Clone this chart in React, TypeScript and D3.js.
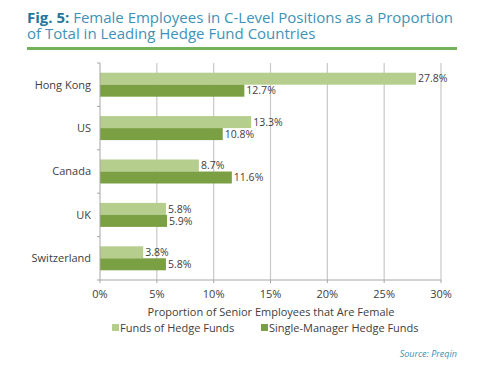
import React from "react";
import * as d3 from "d3";

const categories = ["Hong Kong", "US", "Canada", "UK", "Switzerland"];
const seriesNames = ["Funds of Hedge Funds", "Single-Manager Hedge Funds"];
const fundsOfHedgeFunds = [27.8, 13.3, 8.7, 5.8, 3.8];
const singleManager = [12.7, 10.8, 11.6, 5.9, 5.8];
const xTicks = [0, 5, 10, 15, 20, 25, 30];

const W = 499;
const H = 373;
const FONT = "'Open Sans', 'DejaVu Sans', sans-serif";
const LIGHT = "#b5cd8d";
const DARK = "#7ba043";
const TEXT = "#404040";

export default function App() {
  const x = d3.scaleLinear().domain([0, 30]).range([100, 441]);
  const y = d3.scaleBand().domain(categories).range([63, 280]).paddingInner(0).paddingOuter(0);
  const barH = 12;
  const series = [fundsOfHedgeFunds, singleManager];
  const colors = [LIGHT, DARK];

  return (
    <div style={{ position: "fixed", left: 0, top: 0 }}>
      <svg width={W} height={H} style={{ display: "block", background: "#fff" }}>
        <text x={27} y={23} fontFamily={FONT} fontSize={15} fill="#4092b8" textLength={426} lengthAdjust="spacingAndGlyphs">
          <tspan fontWeight="bold" fill="#23779e">Fig. 5:</tspan>
          <tspan> Female Employees in C-Level Positions as a Proportion</tspan>
        </text>
        <text x={27} y={38.5} fontFamily={FONT} fontSize={15} fill="#4092b8">
          of Total in Leading Hedge Fund Countries
        </text>
        <rect x={27} y={47} width={430} height={3} fill="#74b25a" />

        {xTicks.slice(1).map((t) => (
          <line key={"g" + t} x1={x(t)} x2={x(t)} y1={63} y2={280} stroke="#c8c8c8" strokeWidth={1.2} />
        ))}

        {categories.map((c, i) =>
          series.map((s, k) => {
            const y0 = (y(c) as number) + y.bandwidth() / 2 - barH + k * barH;
            return (
              <g key={c + k}>
                <rect x={x(0)} y={y0} width={x(s[i]) - x(0)} height={barH} fill={colors[k]} />
                <text
                  x={x(s[i]) + 2}
                  y={y0 + barH / 2}
                  dy="0.35em"
                  fontFamily={FONT}
                  fontSize={10.5}
                  fill={TEXT}
                >
                  {s[i].toFixed(1)}%
                </text>
              </g>
            );
          })
        )}

        {/* y axis */}
        <line x1={100} x2={100} y1={63} y2={280} stroke="#a6a6a6" strokeWidth={1} />
        {d3.range(categories.length + 1).map((i) => {
          const yy = 63 + i * y.bandwidth();
          return <line key={"yt" + i} x1={97} x2={100} y1={yy} y2={yy} stroke="#a6a6a6" />;
        })}
        {categories.map((c) => (
          <text
            key={"l" + c}
            x={91}
            y={(y(c) as number) + y.bandwidth() / 2}
            dy="0.35em"
            textAnchor="end"
            fontFamily={FONT}
            fontSize={11}
            fill={TEXT}
          >
            {c}
          </text>
        ))}

        {/* x axis */}
        <line x1={100} x2={441} y1={280} y2={280} stroke="#a6a6a6" />
        {xTicks.map((t) => (
          <g key={"xt" + t}>
            <line x1={x(t)} x2={x(t)} y1={280} y2={283} stroke="#a6a6a6" />
            <text x={x(t)} y={294} dy="0.35em" textAnchor="middle" fontFamily={FONT} fontSize={11} fill={TEXT}>
              {t}%
            </text>
          </g>
        ))}
        <text x={271} y={312} dy="0.35em" textAnchor="middle" fontFamily={FONT} fontSize={11} fill={TEXT}>
          Proportion of Senior Employees that Are Female
        </text>

        {/* legend */}
        {seriesNames.map((n, k) => {
          const lx = k === 0 ? 112 : 261;
          return (
            <g key={"lg" + k}>
              <rect x={lx} y={324} width={7} height={7} fill={colors[k]} />
              <text x={lx + 8} y={328} dy="0.35em" fontFamily={FONT} fontSize={11} fill={TEXT}>
                {n}
              </text>
            </g>
          );
        })}

        <text x={457} y={354} dy="0.35em" textAnchor="end" fontFamily={FONT} fontSize={9} fontStyle="italic" fill="#3a8fb5">
          Source: Preqin
        </text>
      </svg>
    </div>
  );
}
